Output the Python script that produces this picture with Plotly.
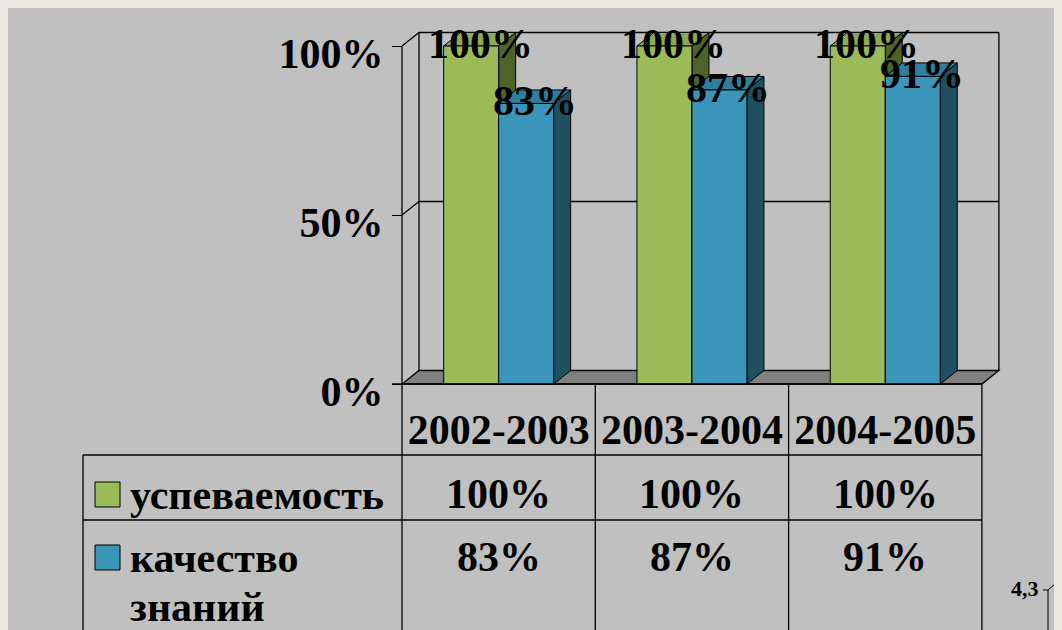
import plotly.graph_objects as go

# ---- data ----
categories = ["2002-2003", "2003-2004", "2004-2005"]
series_names = ["успеваемость", "качество знаний"]
uspevaemost = [100, 100, 100]
kachestvo = [83, 87, 91]
y_tick_values = [0, 50, 100]
y_tick_labels = ["0%", "50%", "100%"]
side_note = "4,3"

# ---- page / pixel helpers (layout only) ----
PAGE_W, PAGE_H = 1062, 630
OFF = 8                       # page body margin
W, H = PAGE_W - OFF, PAGE_H - OFF
X0PX, CELL = 402.0, 193.3
Y0PX, UNIT = 384.0, 3.38


def ux(px):
    return (px - X0PX) / CELL - 0.5


def vy(py):
    return (Y0PX - py) / UNIT


BW = 55 / CELL          # bar width in x units
DX = 17 / CELL          # depth offset x
DY = 13.5 / UNIT        # depth offset y

GREEN, GREEN_TOP, GREEN_SIDE = "#9BBB59", "#8FAA55", "#4F6228"
BLUE, BLUE_TOP, BLUE_SIDE = "#3A95B8", "#2E7F9D", "#1F5062"
FLOOR = "#808080"
BG = "#C0C0C0"
FONT = dict(family="Liberation Serif", size=42, color="black", weight="bold")

fig = go.Figure()
fig.add_trace(go.Bar(x=list(range(len(categories))), y=uspevaemost, width=BW, offset=-BW,
                     marker=dict(color=GREEN, line=dict(color="black", width=1)),
                     name=series_names[0], hoverinfo="skip"))
fig.add_trace(go.Bar(x=list(range(len(categories))), y=kachestvo, width=BW, offset=0,
                     marker=dict(color=BLUE, line=dict(color="black", width=1)),
                     name=series_names[1], hoverinfo="skip"))

shapes = []
line_k = dict(color="black", width=1.3)
n = len(categories)
xl, xr = -0.5, n - 0.5
ymax = max(y_tick_values)

# floor
shapes.append(dict(type="path", layer="below", fillcolor=FLOOR, line=line_k,
                   path=f"M{xl},0 L{xr},0 L{xr+DX},{DY} L{xl+DX},{DY} Z"))
# back wall verticals and gridlines
shapes.append(dict(type="line", layer="below", x0=xl + DX, x1=xl + DX, y0=DY, y1=ymax + DY, line=line_k))
shapes.append(dict(type="line", layer="below", x0=xr + DX, x1=xr + DX, y0=DY, y1=ymax + DY, line=line_k))
for t in y_tick_values[1:]:
    shapes.append(dict(type="line", layer="below", x0=xl + DX, x1=xr + DX, y0=t + DY, y1=t + DY, line=line_k))
    shapes.append(dict(type="line", layer="below", x0=xl, x1=xl + DX, y0=t, y1=t + DY, line=line_k))
# front axis line
shapes.append(dict(type="line", layer="below", x0=xl, x1=xl, y0=0, y1=ymax, line=line_k))


def faces(x0, x1, v, top, side):
    return [
        dict(type="path", layer="below", fillcolor=side, line=dict(color="black", width=1),
             path=f"M{x1},0 L{x1},{v} L{x1+DX},{v+DY} L{x1+DX},{DY} Z"),
        dict(type="path", layer="below", fillcolor=top, line=dict(color="black", width=1),
             path=f"M{x0},{v} L{x1},{v} L{x1+DX},{v+DY} L{x0+DX},{v+DY} Z"),
    ]


for i in range(n):
    shapes += faces(i - BW, i, uspevaemost[i], GREEN_TOP, GREEN_SIDE)
    shapes += faces(i, i + BW, kachestvo[i], BLUE_TOP, BLUE_SIDE)

# data table
ybot = vy(PAGE_H)
tx_left = ux(83)
r1, r2 = vy(455), vy(520)
shapes.append(dict(type="line", x0=xl - 10 / CELL, x1=xr, y0=0, y1=0, line=line_k))
shapes.append(dict(type="line", x0=tx_left, x1=xr, y0=r1, y1=r1, line=line_k))
shapes.append(dict(type="line", x0=tx_left, x1=xr, y0=r2, y1=r2, line=line_k))
shapes.append(dict(type="line", x0=tx_left, x1=tx_left, y0=r1, y1=ybot, line=line_k))
for k in range(n + 1):
    xv = xl + k
    shapes.append(dict(type="line", x0=xv, x1=xv, y0=0, y1=ybot, line=line_k))
# legend keys
for (c, py0) in [(GREEN, 482), (BLUE, 545)]:
    shapes.append(dict(type="rect", x0=ux(95), x1=ux(120), y0=vy(py0), y1=vy(py0 + 25),
                       fillcolor=c, line=dict(color="black", width=1)))
# fragment of a neighbouring chart (bottom right)
thin = dict(color="black", width=1)
shapes.append(dict(type="line", x0=ux(1043), x1=ux(1048), y0=vy(590), y1=vy(590), line=thin))
shapes.append(dict(type="line", x0=ux(1048), x1=ux(1048), y0=vy(590), y1=vy(PAGE_H), line=thin))
shapes.append(dict(type="line", x0=ux(1048), x1=ux(1062), y0=vy(590), y1=vy(578), line=thin))

ann = []
for i in range(n):
    ann.append(dict(x=i - BW / 2, y=uspevaemost[i], text=f"{uspevaemost[i]}%", showarrow=False,
                    xshift=9, yshift=2, font=FONT))
    ann.append(dict(x=i + BW / 2, y=kachestvo[i], text=f"{kachestvo[i]}%", showarrow=False,
                    xshift=9, yshift=2, font=FONT))
    ann.append(dict(x=i, y=vy(494), text=f"{uspevaemost[i]}%", showarrow=False, font=FONT))
    ann.append(dict(x=i, y=vy(557), text=f"{kachestvo[i]}%", showarrow=False, font=FONT))
ann.append(dict(x=ux(128), y=vy(495), text=series_names[0], xanchor="left", showarrow=False, font=FONT))
w1, w2 = series_names[1].split(" ")
ann.append(dict(x=ux(128), y=vy(558), text=w1, xanchor="left", showarrow=False, font=FONT))
ann.append(dict(x=ux(128), y=vy(607), text=w2, xanchor="left", showarrow=False, font=FONT))
ann.append(dict(x=ux(1041), y=vy(588), text=side_note, xanchor="right", showarrow=False,
                font=dict(family="Liberation Serif", size=22, color="black", weight="bold")))

fig.update_layout(
    width=W, height=H,
    margin=dict(l=0, r=0, t=0, b=0, pad=0),
    paper_bgcolor=BG, plot_bgcolor=BG,
    barmode="overlay", showlegend=False,
    shapes=shapes, annotations=ann,
    xaxis=dict(range=[ux(OFF), ux(PAGE_W)], tickvals=list(range(n)), ticktext=categories,
               anchor="free", position=(PAGE_H - Y0PX) / H, showgrid=False, zeroline=False,
               showline=False, ticks="", tickfont=FONT, ticklabelstandoff=17, fixedrange=True),
    yaxis=dict(range=[vy(PAGE_H), vy(OFF)], tickvals=y_tick_values, ticktext=y_tick_labels,
               anchor="free", position=(X0PX - OFF) / W, showgrid=False, zeroline=False,
               showline=False, ticks="outside", ticklen=10, tickwidth=1.3, tickcolor="black",
               tickfont=FONT, ticklabelshift=7, fixedrange=True),
)

fig.write_html("out.html", config={"displayModeBar": False},
               post_script="document.body.style.backgroundColor='#ECE9E5';")
